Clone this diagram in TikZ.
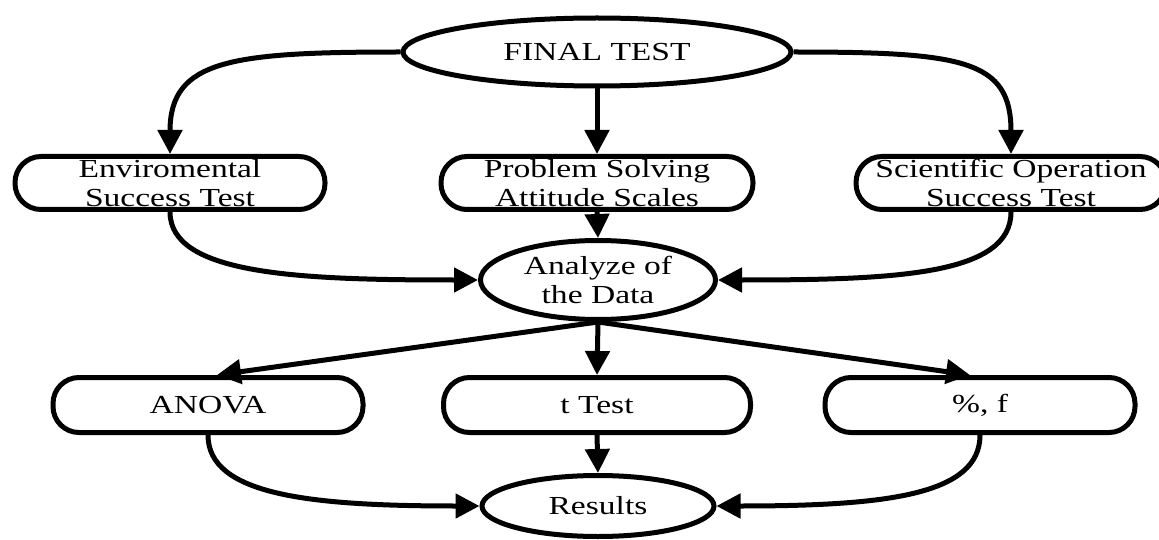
\documentclass[tikz,border=0pt]{standalone}
\usepackage{fontspec}
\setmainfont{Liberation Serif}[FakeStretch=1.29]
\usetikzlibrary{shapes.geometric,arrows.meta,calc}
\begin{document}
\begin{tikzpicture}[x=1pt,y=-1pt,
  box/.style={draw, line width=5pt, inner sep=0pt, align=center,
    font=\fontsize{26}{29}\selectfont},
  oval/.style={box, ellipse},
  pill/.style={box, rectangle, rounded corners=26pt, minimum width=310pt, minimum height=53pt},
  conn/.style={line width=5pt, -{Triangle[length=24pt,width=24pt]}}
]
\useasboundingbox (0,0) rectangle (1159,540);

\node[oval, minimum width=388pt, minimum height=68pt] (final) at (597,52) {FINAL TEST};

\node[pill] (env)  at (170,183) {Enviromental\\Success Test};
\node[pill, minimum width=312pt] (prob) at (597,183) {Problem Solving\\Attitude Scales};
\node[pill] (sci)  at (1011,183) {Scientific Operation\\Success Test};

\node[oval, minimum width=235pt, minimum height=79pt] (ana) at (598,280) {Analyze of\\the Data};

\node[pill, minimum width=310pt, minimum height=55pt] (anova) at (208,405) {ANOVA};
\node[pill, minimum width=307pt, minimum height=55pt] (ttest) at (597,405) {t Test};
\node[pill, minimum width=310pt, minimum height=55pt] (pf)    at (980,405) {\%, f};

\node[oval, minimum width=232pt, minimum height=61pt] (res) at (598,506) {Results};

% top level
\draw[conn] (final.west) .. controls ($(final.west)+(-170,0)$) and ($(env.north)+(0,-94)$) .. (env.north);
\draw[conn] (final.south) -- (prob.north);
\draw[conn] (final.east) .. controls ($(final.east)+(170,0)$) and ($(sci.north)+(0,-94)$) .. (sci.north);

% into analysis
\draw[conn] (env.south) .. controls ($(env.south)+(0,63)$) and ($(ana.west)+(-178,0)$) .. (ana.west);
\draw[conn] (prob.south) -- (ana.north);
\draw[conn] (sci.south) .. controls ($(sci.south)+(0,63)$) and ($(ana.east)+(178,0)$) .. (ana.east);

% analyses
\draw[conn] (ana.south) -- ($(anova.north)+(9,0)$);
\draw[conn] (ana.south) -- (ttest.north);
\draw[conn] (ana.south) -- ($(pf.north)+(-10,0)$);

% results
\draw[conn] (anova.south) .. controls ($(anova.south)+(0,60)$) and ($(res.west)+(-170,0)$) .. (res.west);
\draw[conn] (ttest.south) -- (res.north);
\draw[conn] (pf.south) .. controls ($(pf.south)+(0,60)$) and ($(res.east)+(170,0)$) .. (res.east);
\end{tikzpicture}
\end{document}
